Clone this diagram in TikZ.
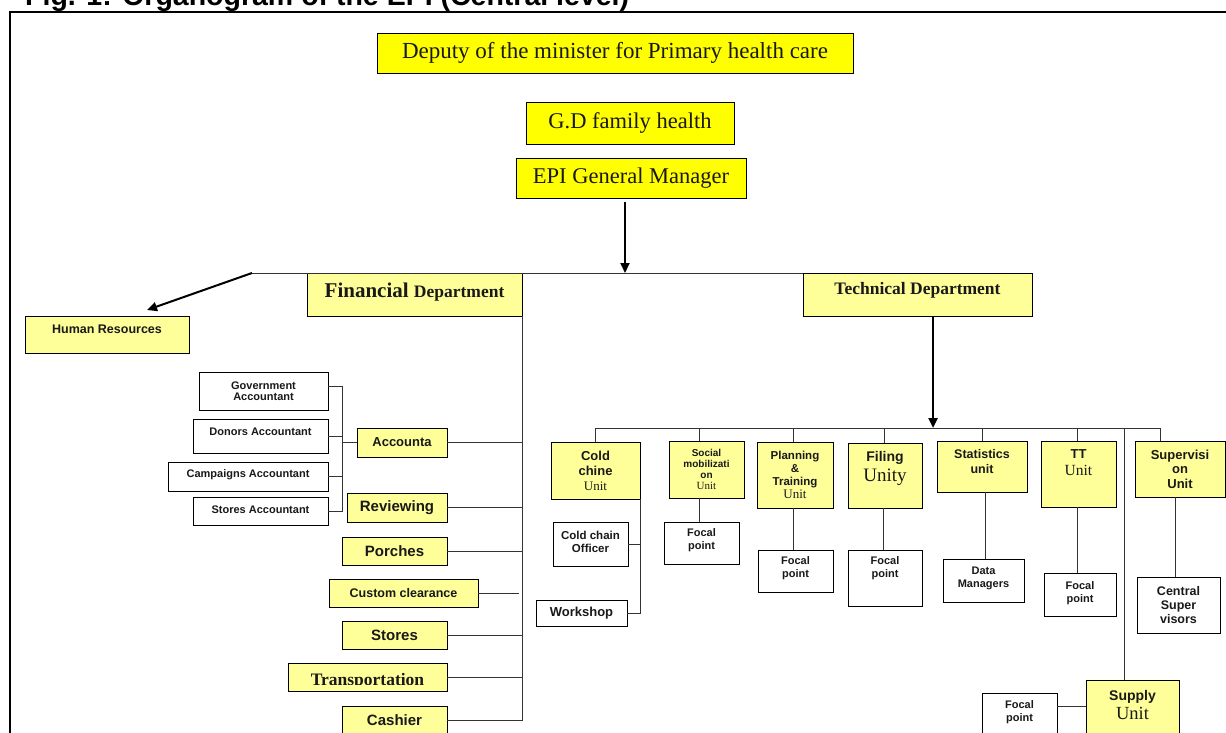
\documentclass[tikz,border=0pt]{standalone}
\usepackage{fontspec}
\setmainfont{Liberation Serif}
\setsansfont{Liberation Sans}
\usetikzlibrary{arrows.meta,shadows}
\definecolor{topY}{HTML}{FFFF00}
\definecolor{paleY}{HTML}{FFFF99}
\newcommand\fsz[2]{\fontsize{#1}{#2}\selectfont}
\newcommand\sfbf{\sffamily\bfseries}
\newcommand\rmbf{\rmfamily\bfseries}
\newcommand\urm{\rmfamily\mdseries}
\tikzset{
  boxbase/.style={draw=black, line width=0.9pt, inner sep=0pt, outer sep=0pt,
    drop shadow={shadow xshift=1.2pt, shadow yshift=-1.2pt, fill=black!45, opacity=1}},
  topbox/.style={boxbase, fill=topY},
  ubox/.style={boxbase, fill=paleY},
  wbox/.style={boxbase, fill=white},
  lbl/.style={align=center, inner sep=0pt, text=black!90},
  conn/.style={draw=black!80, line width=1pt},
  arr/.style={draw=black, line width=2pt, -{Triangle[length=10pt,width=9pt]}},
  frameline/.style={draw=black, line width=2.6pt}
}
% optional dy, name, style, x1, y1, x2, y2, font, text
\newcommand\bx[9][0]{%
  \node[#3, minimum width={(#6-#4)*1pt}, minimum height={(#7-#5)*1pt}] (#2) at ({(#4+#6)/2},{(#5+#7)/2}) {};
  \node[lbl, font={#8}] (#2-t) at ([yshift=#1pt]#2.center) {#9};}

\begin{document}
\begin{tikzpicture}[x=1pt, y=-1pt]
\useasboundingbox (0,0) rectangle (1226,733);
\fill[white] (0,0) rectangle (1226,733);

% title (top clipped by page)
\node[anchor=base west, inner sep=0pt, font=\sfbf\fsz{28.5}{30}] (title) at (25,5.5) {Fig. 1: Organogram of the EPI (Central level)};
% frame
\draw[frameline] (10,760) -- (10,12) -- (1240,12);

% top
\bx{dep}{topbox}{377}{33}{853}{73}{\fsz{23}{24}}{Deputy of the minister for Primary health care}
\bx{gd}{topbox}{526}{102}{734}{144}{\fsz{22.5}{24}}{G.D family health}
\bx{epi}{topbox}{516}{158}{746}{198}{\fsz{22.5}{24}}{EPI General Manager}

% departments
\bx[5]{hr}{ubox}{25}{316}{189}{353}{\sfbf\fsz{12.5}{14}}{Human Resources}
\bx[2]{fin}{ubox}{307}{273}{522}{316}{\rmbf\fsz{21}{22}}{Financial {\fsz{17.5}{20}Department}}
\bx[4]{tech}{ubox}{803}{273}{1032}{316}{\rmbf\fsz{17.5}{20}}{Technical Department}

% financial side
\bx{gov}{wbox}{199}{372}{328}{410}{\sfbf\fsz{11}{11.5}}{Government\\Accountant}
\bx[4]{don}{wbox}{193}{419}{328}{453}{\sfbf\fsz{11}{12}}{Donors Accountant}
\bx[1.5]{camp}{wbox}{168}{462}{328}{491}{\sfbf\fsz{11}{12}}{Campaigns Accountant}
\bx[1]{sacc}{wbox}{193}{497}{328}{525}{\sfbf\fsz{11}{12}}{Stores Accountant}
\bx{acc}{ubox}{357}{428}{447}{457}{\sfbf\fsz{13}{14}}{Accounta}
\bx{rev}{ubox}{347}{493}{447}{522}{\sfbf\fsz{15}{16}}{Reviewing}
\bx{por}{ubox}{342}{537}{447}{565}{\sfbf\fsz{15}{16}}{Porches}
\bx{cus}{ubox}{329}{579}{478}{607}{\sfbf\fsz{12.5}{14}}{Custom clearance}
\bx{sto}{ubox}{342}{621}{447}{649}{\sfbf\fsz{15}{16}}{Stores}
\node[ubox, minimum width=159pt, minimum height=28pt] (tra) at (367.5,677) {};
\begin{scope}
  \clip (289,664) rectangle (446,684.5);
  \node[lbl, anchor=base, font=\rmbf\fsz{17.5}{20}] (traT) at (367.5,685) {Transportation};
\end{scope}
\bx{cash}{ubox}{342}{706}{447}{735}{\sfbf\fsz{15}{16}}{Cashier}

% technical units
\bx{cold}{ubox}{551}{442}{640}{499}{\sfbf\fsz{13}{15}}{Cold\\chine\\{\urm Unit}}
\bx{soc}{ubox}{669}{441}{744}{498}{\sfbf\fsz{10}{11}}{Social\\mobilizati\\on\\{\urm\fsz{11}{11}Unit}}
\bx{plan}{ubox}{757}{442}{833}{508}{\sfbf\fsz{11.5}{13}}{Planning\\\&\\Training\\{\urm\fsz{13}{13}Unit}}
\bx[7.5]{fil}{ubox}{848}{443}{922}{508}{\sfbf\fsz{14}{20}}{Filing\\{\urm\fsz{19}{20}Unity}}
\bx[5]{stat}{ubox}{937}{441}{1027}{492}{\sfbf\fsz{12.5}{15}}{Statistics\\unit}
\bx[11.5]{tt}{ubox}{1041}{441}{1116}{507}{\sfbf\fsz{13}{17}}{TT\\{\urm\fsz{15.5}{17}Unit}}
\bx{sup}{ubox}{1135}{441}{1225}{497}{\sfbf\fsz{13}{14.5}}{Supervisi\\on\\Unit}
\bx[2]{supl}{ubox}{1086}{680}{1179}{735}{\sfbf\fsz{14}{19}}{Supply\\{\urm\fsz{18.5}{19}Unit}}

% unit children
\bx[2.5]{cco}{wbox}{553}{522}{628}{566}{\sfbf\fsz{11.5}{13}}{Cold chain\\Officer}
\bx{work}{wbox}{536}{600}{627}{626}{\sfbf\fsz{13}{14}}{Workshop}
\bx[2.5]{fsoc}{wbox}{664}{522}{739}{564}{\sfbf\fsz{11}{13}}{Focal\\point}
\bx[2.5]{fplan}{wbox}{758}{550}{833}{592}{\sfbf\fsz{11}{13}}{Focal\\point}
\bx[10]{ffil}{wbox}{848}{550}{922}{606}{\sfbf\fsz{11}{13}}{Focal\\point}
\bx[2]{dman}{wbox}{943}{559}{1024}{602}{\sfbf\fsz{11}{13}}{Data\\Managers}
\bx[1.5]{ftt}{wbox}{1044}{573}{1116}{616}{\sfbf\fsz{11}{13}}{Focal\\point}
\bx{csv}{wbox}{1137}{577}{1220}{633}{\sfbf\fsz{12.5}{14}}{Central\\Super\\visors}
\bx[1.5]{fsup}{wbox}{982}{693}{1057}{735}{\sfbf\fsz{11}{13}}{Focal\\point}

% ---- connectors ----
\coordinate (hub) at (625,273);
\coordinate (hrL) at (252,273);
\coordinate (epiS) at ([shift={(-6,4)}]epi.south);
\draw[arr] (epiS) -- (epiS |- hub);
\draw[conn] (hrL) -- (tech.north west);
\draw[arr] (hrL) -- ([shift={(40,-6)}]hr.north);

% financial
\draw[conn] (fin.south east) |- (cash.east);
\foreach \n in {acc,rev,por,sto,tra}{\draw[conn] (\n.east) -- (\n.east -| fin.east);}
\draw[conn] (cus.east) -- ([xshift=-3pt]cus.east -| fin.east);
\coordinate (bk) at (342,386);
\draw[conn] (gov.east |- bk) -- (bk) |- (sacc.east);
\foreach \n in {don,camp}{\draw[conn] (\n.east) -- (\n.east -| bk);}
\draw[conn] (acc.west) -- (acc.west -| bk);

% technical
\coordinate (uL) at (595,428);
\coordinate (uR) at (1160,428);
\coordinate (techS) at ([xshift=15.5pt]tech.south);
\draw[arr, line width=2.4pt] (techS) -- (techS |- uL);
\draw[conn] (uL) -- (uR);
\draw[conn] (uL) -- (cold.north |- uL) -- (cold.north);
\coordinate (socT) at ([xshift=-7.5pt]soc.north);
\coordinate (socB) at ([xshift=-7.5pt]soc.south);
\draw[conn] (socT |- uL) -- (socT);
\draw[conn] (socB) -- (socB |- fsoc.north);
\coordinate (planT) at ([xshift=-2pt]plan.north);
\coordinate (planB) at ([xshift=-2pt]plan.south);
\draw[conn] (planT |- uL) -- (planT);
\draw[conn] (planB) -- (planB |- fplan.north);
\coordinate (filT) at ([xshift=-1pt]fil.north);
\coordinate (filB) at ([xshift=-2pt]fil.south);
\draw[conn] (filT |- uL) -- (filT);
\draw[conn] (filB) -- (filB |- ffil.north);
\coordinate (statB) at ([xshift=3pt]stat.south);
\draw[conn] (stat.north |- uL) -- (stat.north);
\draw[conn] (statB) -- (statB |- dman.north);
\coordinate (ttT) at ([xshift=-1.5pt]tt.north);
\coordinate (ttB) at ([xshift=-1.5pt]tt.south);
\draw[conn] (ttT |- uL) -- (ttT);
\draw[conn] (ttB) -- (ttB |- ftt.north);
\coordinate (supT) at ([xshift=-20pt]sup.north);
\coordinate (supB) at ([xshift=-5pt]sup.south);
\draw[conn] (uR) -- (supT);
\draw[conn] (supB) -- (supB |- csv.north);
\coordinate (suplT) at ([xshift=-8.5pt]supl.north);
\draw[conn] (suplT |- uL) -- (suplT);
\coordinate (fsupE) at ([yshift=8pt]fsup.east);
\draw[conn] (fsupE) -- (fsupE -| supl.west);
\draw[conn] (cold.south east) |- (work.east);
\draw[conn] (cco.east) -- (cco.east -| cold.east);
\end{tikzpicture}
\end{document}
